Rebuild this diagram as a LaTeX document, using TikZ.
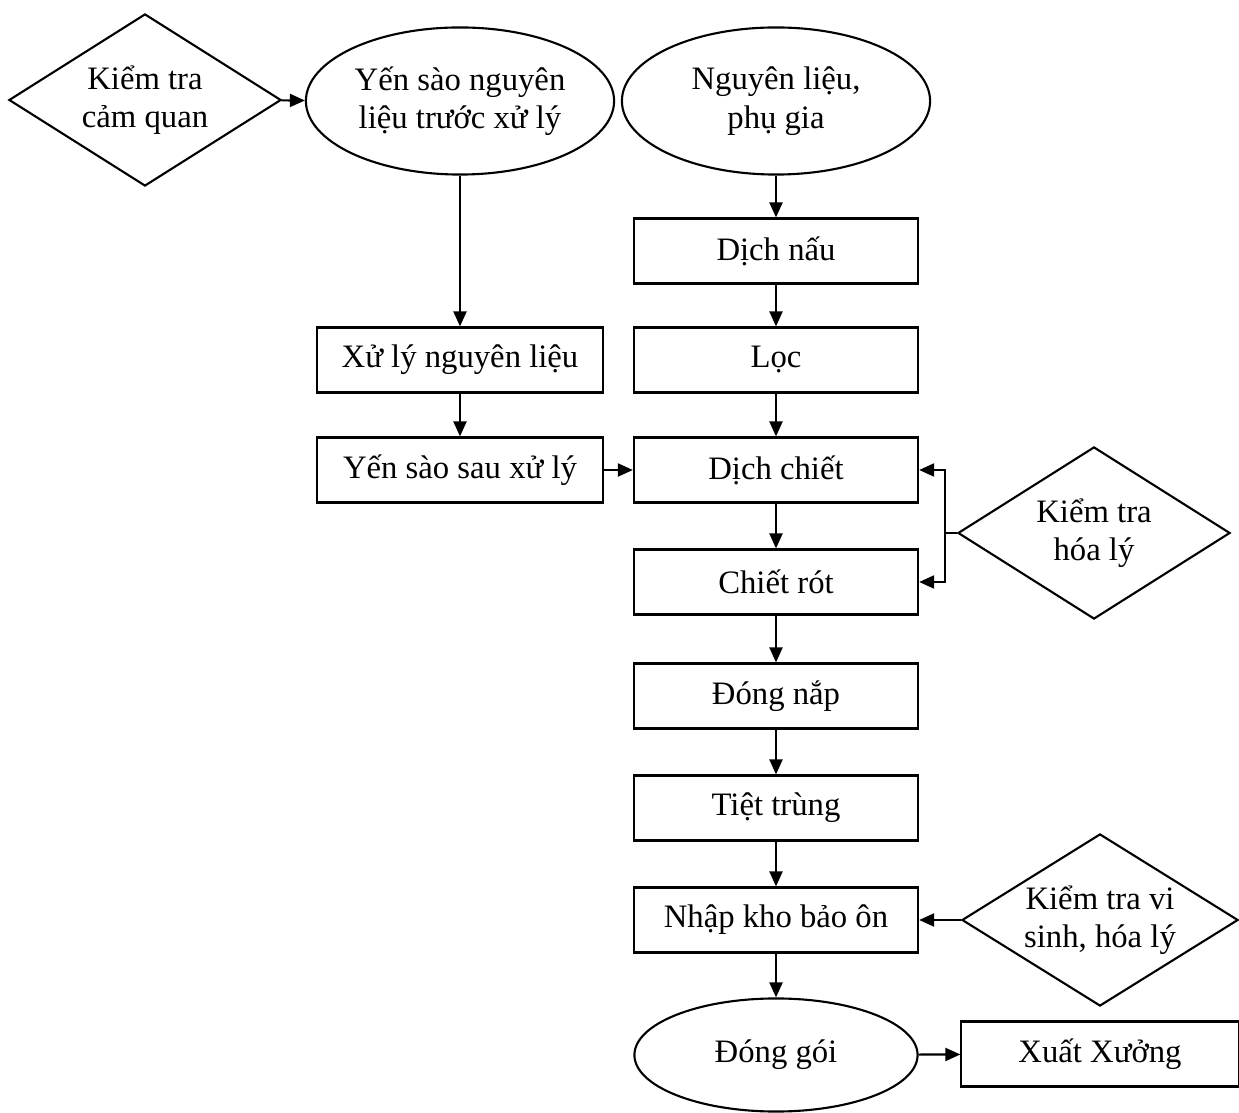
\documentclass[tikz,border=0pt]{standalone}
\usepackage{fontspec}
\setmainfont{Liberation Serif}
\usetikzlibrary{arrows.meta,positioning,shapes.geometric}

\begin{document}
\begin{tikzpicture}[
  x=0.01cm, y=-0.01cm,
  >={Triangle[length=1.5mm,width=1.3mm]},
  line width=0.6pt,
  every node/.style={font=\fontsize{9.3}{10.9}\selectfont, align=center},
  box/.style={rectangle, draw, minimum width=2.84cm, minimum height=0.65cm, inner sep=0pt},
  oval/.style={ellipse, draw, minimum width=3.08cm, minimum height=1.47cm, inner sep=0pt},
  check/.style={diamond, draw, aspect=1.58, minimum width=2.72cm, minimum height=1.72cm, inner sep=0pt}
]
\useasboundingbox (0,0) rectangle (1239,1113);

% left branch
\node[check] (kq) at (145,100) {Kiểm tra\\cảm quan};
\node[oval] (ysn) at (460,101) {Yến sào nguyên\\liệu trước xử lý};
\node[box, minimum width=2.85cm] (xl) at (460,360) {Xử lý nguyên liệu};
\node[box, minimum width=2.85cm] (ys) at (460,470) {Yến sào sau xử lý};

% main line
\node[oval] (nl) at (776,101) {Nguyên liệu,\\phụ gia};
\node[box] (dn) at (776,251) {Dịch nấu};
\node[box] (loc) at (776,360) {Lọc};
\node[box] (dc) at (776,470) {Dịch chiết};
\node[box] (cr) at (776,582) {Chiết rót};
\node[box] (dnap) at (776,696) {Đóng nắp};
\node[box] (tt) at (776,808) {Tiệt trùng};
\node[box] (nk) at (776,920) {Nhập kho bảo ôn};
\node[oval, minimum width=2.83cm, minimum height=1.13cm] (dg) at (776,1055) {Đóng gói};
\node[box, minimum width=2.77cm] (xx) at (1100,1054) {Xuất Xưởng};

% checks on the right
\node[check] (hl) at (1094,533) {Kiểm tra\\hóa lý};
\node[check, minimum width=2.76cm] (vs) at (1100,920) {Kiểm tra vi\\sinh, hóa lý};
\coordinate (hlj) at (945,533);

\draw[->] (kq) -- (ysn);
\draw[->] (ysn) -- (xl);
\draw[->] (xl) -- (ys);
\draw[->] (ys) -- (dc);

\draw[->] (nl) -- (dn);
\draw[->] (dn) -- (loc);
\draw[->] (loc) -- (dc);
\draw[->] (dc) -- (cr);
\draw[->] (cr) -- (dnap);
\draw[->] (dnap) -- (tt);
\draw[->] (tt) -- (nk);
\draw[->] (nk) -- (dg);
\draw[->] (dg) -- (xx);

\draw (hl.west) -- (hlj);
\draw[->] (hlj) |- (dc.east);
\draw[->] (hlj) |- (cr.east);
\draw[->] (vs) -- (nk);
\end{tikzpicture}
\end{document}
